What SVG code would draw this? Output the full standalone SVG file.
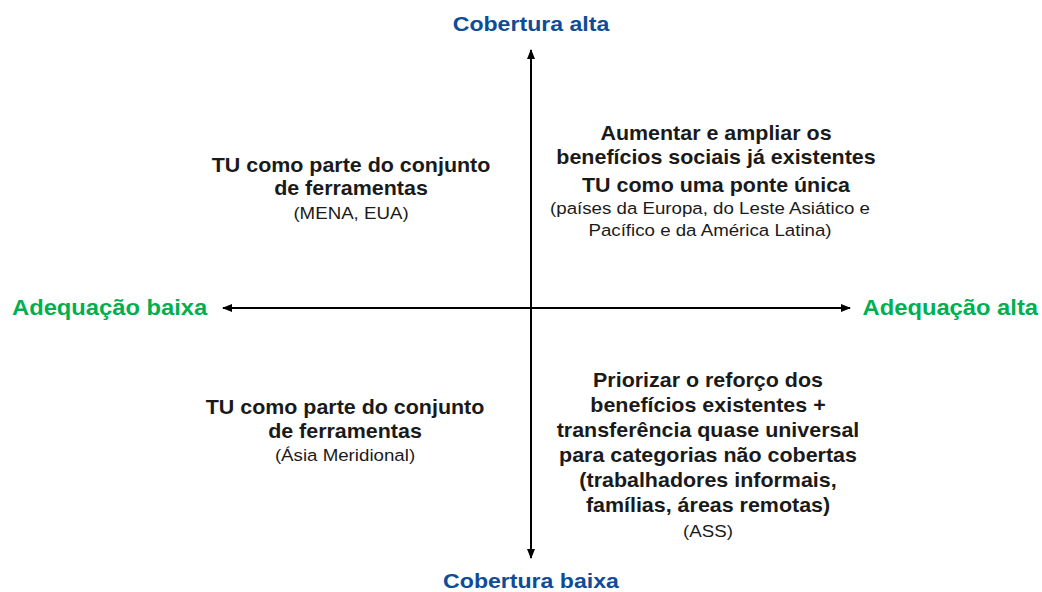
<svg xmlns="http://www.w3.org/2000/svg" width="1042" height="592" viewBox="0 0 1042 592">
<style>
.ax{font-family:"Liberation Sans",Arial,sans-serif;font-weight:bold;font-size:21px}
.blue{fill:#0F4C97}
.green{fill:#00B050;font-size:21.6px}
.t{font-family:"Liberation Sans",Arial,sans-serif;font-weight:bold;font-size:19.5px;fill:#1a1a1a;text-anchor:middle}
.s{font-family:"Liberation Sans",Arial,sans-serif;font-size:17px;fill:#1a1a1a;text-anchor:middle}
.line{stroke:#000;stroke-width:2;fill:none}
</style>
<defs>
<marker id="ah" viewBox="0 0 10 10" refX="9" refY="5" markerWidth="5" markerHeight="5" orient="auto-start-reverse" markerUnits="strokeWidth">
<path d="M0,1 L10,5 L0,9 Z" fill="#000"/>
</marker>
</defs>
<rect width="1042" height="592" fill="#fff"/>
<g id="connectors">
<line class="line" x1="531" y1="558" x2="531" y2="50" marker-start="url(#ah)" marker-end="url(#ah)"/>
<line class="line" x1="223" y1="308" x2="850" y2="308" marker-start="url(#ah)" marker-end="url(#ah)"/>
</g>
<g id="cobertura-alta"><text class="ax blue" transform="translate(531,31) scale(1.1,1)" text-anchor="middle">Cobertura alta</text></g>
<g id="cobertura-baixa"><text class="ax blue" transform="translate(531,588) scale(1.1,1)" text-anchor="middle">Cobertura baixa</text></g>
<g id="adequacao-baixa"><text class="ax green" transform="translate(12,315) scale(1.1,1)">Adequação baixa</text></g>
<g id="adequacao-alta"><text class="ax green" transform="translate(1038,315) scale(1.1,1)" text-anchor="end">Adequação alta</text></g>
<g id="q-upper-left">
<text class="t" transform="translate(351,172) scale(1.1,1)">TU como parte do conjunto</text>
<text class="t" transform="translate(351,195) scale(1.1,1)">de ferramentas</text>
<text class="s" transform="translate(351,219) scale(1.1,1)">(MENA, EUA)</text>
</g>
<g id="q-upper-right">
<text class="t" transform="translate(716,140) scale(1.1,1)">Aumentar e ampliar os</text>
<text class="t" transform="translate(716,164) scale(1.1,1)">benefícios sociais já existentes</text>
<text class="t" transform="translate(716,192) scale(1.1,1)">TU como uma ponte única</text>
<text class="s" transform="translate(710,214) scale(1.1,1)">(países da Europa, do Leste Asiático e</text>
<text class="s" transform="translate(710,236) scale(1.1,1)">Pacífico e da América Latina)</text>
</g>
<g id="q-lower-left">
<text class="t" transform="translate(345,414) scale(1.1,1)">TU como parte do conjunto</text>
<text class="t" transform="translate(345,438) scale(1.1,1)">de ferramentas</text>
<text class="s" transform="translate(345,461) scale(1.1,1)">(Ásia Meridional)</text>
</g>
<g id="q-lower-right">
<text class="t" transform="translate(708,387) scale(1.1,1)">Priorizar o reforço dos</text>
<text class="t" transform="translate(708,412) scale(1.1,1)">benefícios existentes +</text>
<text class="t" transform="translate(708,437) scale(1.1,1)">transferência quase universal</text>
<text class="t" transform="translate(708,462) scale(1.1,1)">para categorias não cobertas</text>
<text class="t" transform="translate(708,487) scale(1.1,1)">(trabalhadores informais,</text>
<text class="t" transform="translate(708,512) scale(1.1,1)">famílias, áreas remotas)</text>
<text class="s" transform="translate(708,537) scale(1.1,1)">(ASS)</text>
</g>
</svg>
